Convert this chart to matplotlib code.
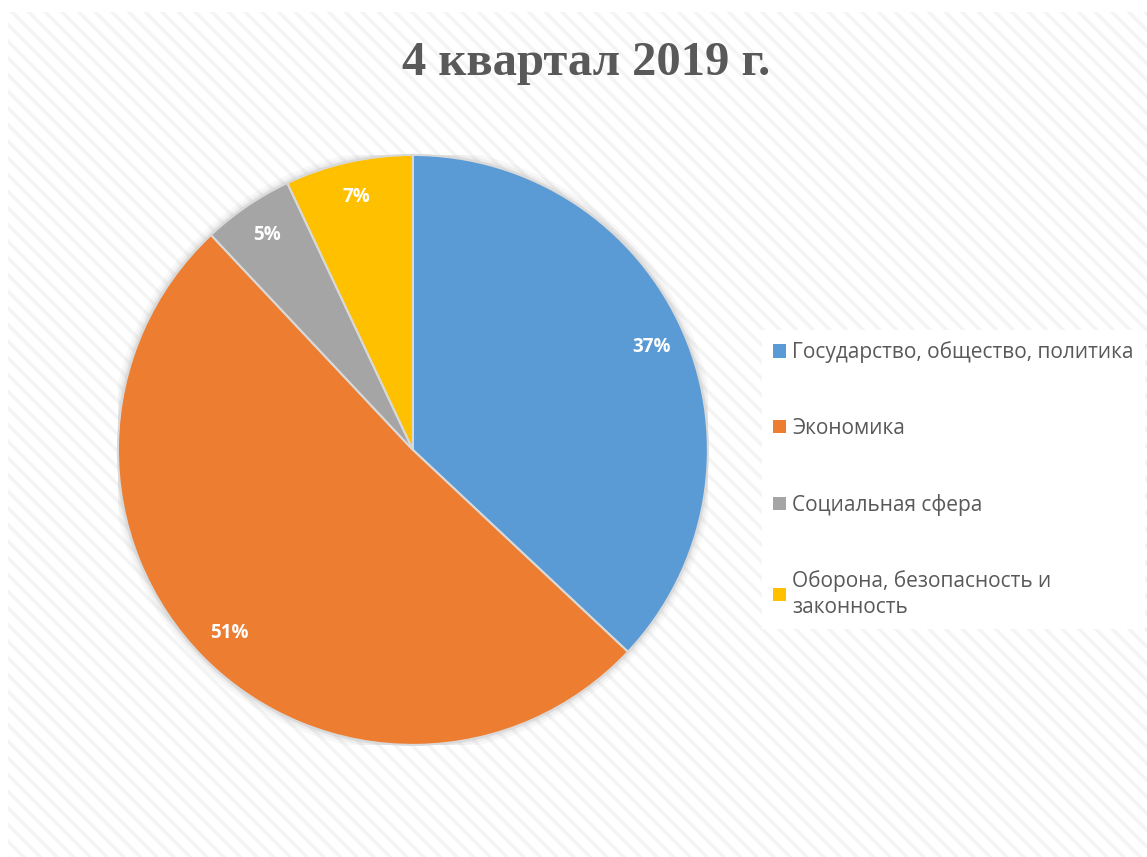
import matplotlib
matplotlib.use('Agg')
import matplotlib.pyplot as plt
from matplotlib.patches import Rectangle, Circle

categories = ['Государство, общество, политика', 'Экономика', 'Социальная сфера',
              'Оборона, безопасность и\nзаконность']
shares = [37, 51, 5, 7]
colors = ['#5b9bd5', '#ed7d31', '#a5a5a5', '#ffc000']

plt.rcParams['hatch.linewidth'] = 2.5
plt.rcParams['hatch.color'] = '#f4f4f4'

fig = plt.figure(figsize=(11.47, 8.57), dpi=100)
fig.patch.set_facecolor('white')

# striped chart area
bg = Rectangle((8/1147, 0), 1 - 8/1147, 1 - 12/857, transform=fig.transFigure,
               facecolor='white', edgecolor='#f4f4f4', linewidth=0, hatch='\\\\', zorder=-5)
fig.patches.append(bg)

ax = fig.add_axes([0.1028, 0.1308, 0.5144, 0.6884])
ax.set_facecolor('none')
ax.set_zorder(2)

# soft shadow around the pie
for r, a in [(1.025, 0.05), (1.015, 0.07), (1.007, 0.10)]:
    ax.add_patch(Circle((0, 0), r, color='#808080', alpha=a, lw=0, zorder=0))

wedges, texts, autotexts = ax.pie(
    shares, colors=colors, startangle=90, counterclock=False,
    autopct='%d%%', pctdistance=0.88,
    wedgeprops=dict(edgecolor='#d9d9d9', linewidth=1.5),
    textprops=dict(color='white', fontsize=13.5, fontweight='bold', family='Open Sans'))
for w in wedges:
    w.set_zorder(2)
for t in autotexts:
    t.set_zorder(3)
ax.set_xlim(-1, 1)
ax.set_ylim(-1, 1)
ax.set_aspect('equal')
ax.axis('off')

fig.text(0.511, 1 - 63/857, '4 квартал 2019 г.', ha='center', va='center',
         fontsize=35, fontweight='bold', family='Liberation Serif', color='#595959')

handles = [Rectangle((0, 0), 1, 1, facecolor=c, edgecolor='none') for c in colors]
leg = fig.legend(handles, categories, loc='upper left', bbox_to_anchor=(762/1147, 1 - 330/857),
                 frameon=True, facecolor='white', edgecolor='none', framealpha=1, fancybox=False,
                 prop=dict(family='Open Sans', size=15), labelcolor='#595959',
                 handlelength=0.6, handleheight=0.6, handletextpad=0.3,
                 labelspacing=2.62, borderpad=0.55, borderaxespad=0)
leg.get_frame().set_linewidth(0)
for t in leg.get_texts():
    t.set_linespacing(1.3)

fig.savefig('out.png', dpi=100)
